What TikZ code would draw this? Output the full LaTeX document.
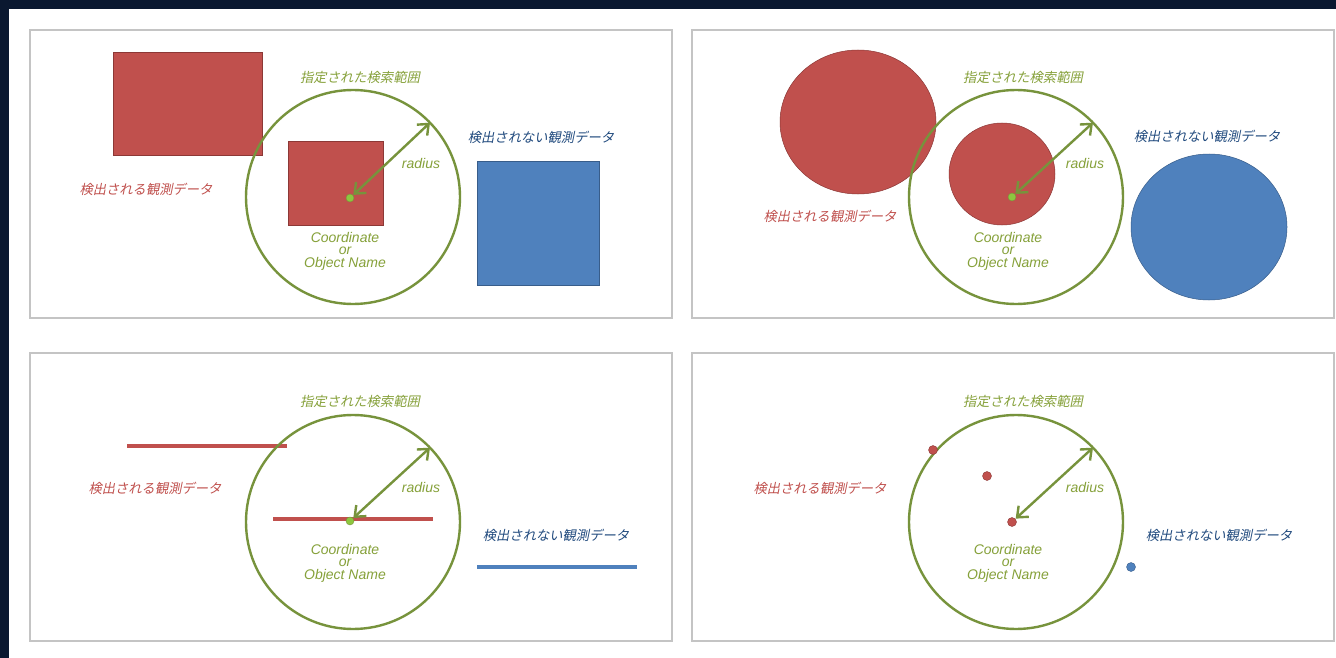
\documentclass[tikz,border=0pt]{standalone}
\usepackage{fontspec}
\setmainfont{Liberation Sans}
\newfontfamily\jpfont[FakeSlant=0.2]{Noto Sans CJK JP}
\usetikzlibrary{arrows.meta,shapes.geometric}
\definecolor{navy}{HTML}{0A1830}
\definecolor{panelgray}{HTML}{C4C4C4}
\definecolor{dred}{HTML}{C0504D}
\definecolor{dredline}{HTML}{8C3836}
\definecolor{dblue}{HTML}{4F81BD}
\definecolor{dblueline}{HTML}{385D8A}
\definecolor{rgreen}{HTML}{77933C}
\definecolor{tgreen}{HTML}{86A13A}
\definecolor{tred}{HTML}{C0504D}
\definecolor{tblue}{HTML}{1F497D}
\definecolor{dotgreen}{HTML}{8DC63F}
\begin{document}
\begin{tikzpicture}[x=1pt,y=-1pt,
  panelbox/.style={draw=panelgray,line width=1.6pt,fill=white,minimum width=642pt,minimum height=288pt,inner sep=0pt,outer sep=0pt},
  searchcircle/.style={circle,draw=rgreen,line width=2.4pt,minimum size=214pt,inner sep=0pt,outer sep=0pt},
  redbox/.style={rectangle,fill=dred,draw=dredline,line width=0.5pt,inner sep=0pt,outer sep=0pt},
  bluebox/.style={rectangle,fill=dblue,draw=dblueline,line width=0.5pt,inner sep=0pt,outer sep=0pt},
  redell/.style={ellipse,fill=dred,draw=dredline,line width=0.5pt,inner sep=0pt,outer sep=0pt},
  blueell/.style={ellipse,fill=dblue,draw=dblueline,line width=0.5pt,inner sep=0pt,outer sep=0pt},
  gdot/.style={circle,fill=dotgreen,draw=rgreen,line width=0.4pt,minimum size=8pt,inner sep=0pt,outer sep=0.5pt},
  rdot/.style={circle,fill=dred,draw=dredline,line width=0.4pt,minimum size=9pt,inner sep=0pt,outer sep=0.5pt},
  bdot/.style={circle,fill=dblue,draw=dblueline,line width=0.4pt,minimum size=9pt,inner sep=0pt,outer sep=0.5pt},
  jplabel/.style={inner sep=0pt,font=\jpfont\fontsize{13.3}{15}\selectfont},
  rangelabel/.style={jplabel,text=tgreen},
  detlabel/.style={jplabel,text=tred},
  undetlabel/.style={jplabel,text=tblue},
  radlabel/.style={inner sep=0pt,text=tgreen,font=\itshape\fontsize{14}{14}\selectfont},
  coordlabel/.style={inner sep=0pt,text=tgreen,align=center,font=\itshape\fontsize{14}{12.5}\selectfont},
  radarrow/.style={draw=rgreen,line width=2.4pt,{Straight Barb[length=9pt,width=15pt]}-{Straight Barb[length=9pt,width=15pt]}},
  redline/.style={draw=dred,line width=4pt},
  blueline/.style={draw=dblue,line width=4pt}
]
\useasboundingbox (0,0) rectangle (1336,658);
\fill[white] (0,0) rectangle (1336,658);
\fill[navy] (0,0) rectangle (1336,9);
\fill[navy] (0,0) rectangle (9,658);

% panels
\node[panelbox] (p1) at (351,174) {};
\node[panelbox] (p2) at (1013,174) {};
\node[panelbox] (p3) at (351,497) {};
\node[panelbox] (p4) at (1013,497) {};

% ---------- panel 1 ----------
\node[redbox,minimum width=149pt,minimum height=103pt] (r1a) at (187.5,103.5) {};
\node[redbox,minimum width=95pt,minimum height=84pt] (r1b) at (335.5,183) {};
\node[bluebox,minimum width=122pt,minimum height=124pt] (b1) at (538,223) {};
\node[searchcircle] (c1) at (353,197) {};
\node[gdot] (d1) at (350,198) {};
\draw[radarrow] (d1) -- (c1.44);
\node[rangelabel] (t1) at (360,77) {指定された検索範囲};
\node[radlabel] (rad1) at (421,163) {radius};
\node[coordlabel] (co1) at (345,251) {Coordinate\\or\\Object Name};
\node[detlabel] (det1) at (146,189) {検出される観測データ};
\node[undetlabel] (und1) at (541,137) {検出されない観測データ};

% ---------- panel 2 ----------
\node[redell,minimum width=156pt,minimum height=144pt] (r2a) at (858,122) {};
\node[redell,minimum width=106pt,minimum height=102pt] (r2b) at (1002,174) {};
\node[blueell,minimum width=156pt,minimum height=146pt] (b2) at (1209,227) {};
\node[searchcircle] (c2) at (1016,197) {};
\node[gdot] (d2) at (1012,197) {};
\draw[radarrow] (d2) -- (c2.44);
\node[rangelabel] (t2) at (1023,77) {指定された検索範囲};
\node[radlabel] (rad2) at (1085,163) {radius};
\node[coordlabel] (co2) at (1008,251) {Coordinate\\or\\Object Name};
\node[detlabel] (det2) at (830,216) {検出される観測データ};
\node[undetlabel] (und2) at (1207,136) {検出されない観測データ};

% ---------- panel 3 ----------
\draw[redline] (127,446) -- (287,446);
\draw[redline] (273,519) -- (433,519);
\draw[blueline] (477,567) -- (637,567);
\node[searchcircle] (c3) at (353,522) {};
\node[gdot] (d3) at (350,521) {};
\draw[radarrow] (d3) -- (c3.44);
\node[rangelabel] (t3) at (360,401) {指定された検索範囲};
\node[radlabel] (rad3) at (421,487) {radius};
\node[coordlabel] (co3) at (345,563) {Coordinate\\or\\Object Name};
\node[detlabel] (det3) at (155,488) {検出される観測データ};
\node[undetlabel] (und3) at (556,535) {検出されない観測データ};

% ---------- panel 4 ----------
\node[searchcircle] (c4) at (1016,522) {};
\node[rdot] (e4a) at (933,450) {};
\node[rdot] (e4b) at (987,476) {};
\node[rdot] (d4) at (1012,522) {};
\node[bdot] (f4) at (1131,567) {};
\draw[radarrow] (d4) -- (c4.44);
\node[rangelabel] (t4) at (1023,401) {指定された検索範囲};
\node[radlabel] (rad4) at (1085,487) {radius};
\node[coordlabel] (co4) at (1008,563) {Coordinate\\or\\Object Name};
\node[detlabel] (det4) at (820,488) {検出される観測データ};
\node[undetlabel] (und4) at (1219,535) {検出されない観測データ};
\end{tikzpicture}
\end{document}
